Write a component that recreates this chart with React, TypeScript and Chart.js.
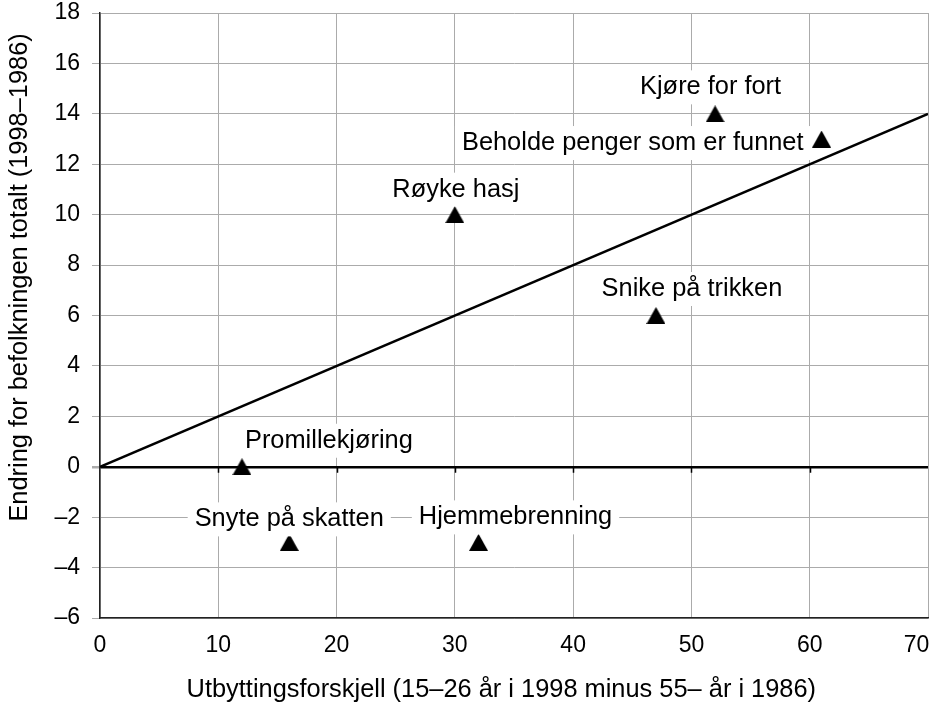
import React, { useEffect, useRef } from "react";
import { Chart, registerables } from "chart.js";

Chart.register(...registerables);

// ---- data ----
const pointNames = [
  "Promillekjøring",
  "Snyte på skatten",
  "Hjemmebrenning",
  "Røyke hasj",
  "Snike på trikken",
  "Kjøre for fort",
  "Beholde penger som er funnet",
];
const pointX = [12, 16, 32, 30, 47, 52, 61];
const pointY = [0, -3, -3, 10, 6, 14, 13];

const trendX = [0, 70];
const trendY = [0, 14];

const xTickMin = 0;
const xTickMax = 70;
const xTickStep = 10;
const yTickMin = -6;
const yTickMax = 18;
const yTickStep = 2;

const xTitle = "Utbyttingsforskjell (15–26 år i 1998 minus 55– år i 1986)";
const yTitle = "Endring for befolkningen totalt (1998–1986)";

// ---- label placement (style, not data) ----
const labelPlacement: { align: "left" | "center" | "right"; dx: number; dy: number }[] = [
  { align: "left", dx: 3, dy: -26 },
  { align: "center", dx: 0, dy: -23 },
  { align: "center", dx: 37, dy: -25 },
  { align: "center", dx: 1, dy: -25 },
  { align: "center", dx: 36, dy: -26.5 },
  { align: "center", dx: -4.5, dy: -26.5 },
  { align: "right", dx: -18, dy: 4 },
];

const FONT = "'Liberation Sans', Arial, Helvetica, sans-serif";
const GRID = "#ababab";
const EM = "\u2003";

function makeTriangle(): HTMLCanvasElement {
  const c = document.createElement("canvas");
  c.width = 19;
  c.height = 17;
  const g = c.getContext("2d")!;
  g.fillStyle = "#000";
  g.beginPath();
  g.moveTo(0, 17);
  g.lineTo(9.5, 0);
  g.lineTo(19, 17);
  g.closePath();
  g.fill();
  return c;
}

const labelPlugin = {
  id: "pointLabels",
  afterDatasetsDraw(chart: any) {
    const { ctx } = chart;
    const xs = chart.scales.x;
    const ys = chart.scales.y;
    ctx.save();
    ctx.font = `25.4px ${FONT}`;
    ctx.textBaseline = "middle";
    ctx.textAlign = "left";
    pointNames.forEach((name, i) => {
      const px = xs.getPixelForValue(pointX[i]);
      const py = ys.getPixelForValue(pointY[i]);
      const pl = labelPlacement[i];
      const w = ctx.measureText(name).width;
      let left: number;
      if (pl.align === "left") left = px + pl.dx;
      else if (pl.align === "right") left = px + pl.dx - w;
      else left = px + pl.dx - w / 2;
      const cy = py + pl.dy;
      ctx.fillStyle = "#fff";
      ctx.fillRect(left - 7, cy - 17, w + 14, 34);
      ctx.fillStyle = "#000";
      ctx.fillText(name, left, cy);
    });
    ctx.restore();
  },
};

const zeroTicksPlugin = {
  id: "zeroTicks",
  beforeDatasetsDraw(chart: any) {
    const { ctx } = chart;
    const xs = chart.scales.x;
    const ys = chart.scales.y;
    const y0 = ys.getPixelForValue(0);
    ctx.save();
    ctx.strokeStyle = "#000";
    ctx.lineWidth = 1.5;
    ctx.beginPath();
    for (let v = xTickMin + xTickStep; v < xTickMax; v += xTickStep) {
      const px = Math.round(xs.getPixelForValue(v)) + 0.5;
      ctx.moveTo(px, y0);
      ctx.lineTo(px, y0 + 6);
    }
    ctx.stroke();
    ctx.restore();
  },
};

export default function App() {
  const ref = useRef<HTMLCanvasElement | null>(null);

  useEffect(() => {
    document.body.style.margin = "0";
    const canvas = ref.current;
    if (!canvas) return;
    const tri = makeTriangle();

    const chart = new Chart(canvas, {
      type: "scatter",
      data: {
        datasets: [
          {
            type: "line",
            data: trendX.map((x, i) => ({ x, y: trendY[i] })),
            borderColor: "#000",
            borderWidth: 2.5,
            pointRadius: 0,
            fill: false,
          } as any,
          {
            data: pointX.map((x, i) => ({ x, y: pointY[i] })),
            pointStyle: tri as any,
            pointRadius: 10,
            backgroundColor: "#000",
            borderColor: "#000",
          },
        ],
      },
      options: {
        responsive: false,
        animation: false,
        devicePixelRatio: 1,
        layout: { padding: { top: 13, right: 14, bottom: 0, left: 0 } },
        plugins: {
          legend: { display: false },
          tooltip: { enabled: false },
        },
        scales: {
          x: {
            type: "linear",
            min: xTickMin,
            max: xTickMax,
            afterFit: (s: any) => {
              s.height = 84;
              s.paddingLeft = 0;
              s.paddingRight = 0;
            },
            ticks: {
              stepSize: xTickStep,
              color: "#000",
              font: { family: FONT, size: 23 },
              padding: 14,
              maxRotation: 0,
              callback: (v: any) => (v === xTickMax ? String(v) + EM : String(v)),
            },
            grid: {
              color: GRID,
              lineWidth: 1,
              drawTicks: false,
            },
            border: { display: true, color: "#222", width: 1.5 },
            title: {
              display: true,
              text: xTitle + EM,
              color: "#000",
              font: { family: FONT, size: 25.4 },
              padding: { top: 0, bottom: -3 },
            },
          },
          y: {
            type: "linear",
            min: yTickMin,
            max: yTickMax,
            afterFit: (s: any) => {
              s.width = 100;
              s.paddingTop = 0;
              s.paddingBottom = 0;
            },
            ticks: {
              stepSize: yTickStep,
              color: "#000",
              font: { family: FONT, size: 23 },
              padding: 12,
              callback: (v: any) => String(v).replace("-", "–"),
            },
            grid: {
              color: (c: any) => (c.tick && c.tick.value === 0 ? "#000" : GRID),
              lineWidth: (c: any) => (c.tick && c.tick.value === 0 ? 2.5 : 1),
              tickColor: GRID,
              tickLength: 8,
              drawTicks: true,
            },
            border: { display: true, color: "#222", width: 1.5 },
            title: {
              display: true,
              text: EM + EM + EM + yTitle,
              color: "#000",
              font: { family: FONT, size: 25.4 },
              padding: { top: 5, bottom: 0 },
            },
          },
        },
      },
      plugins: [zeroTicksPlugin, labelPlugin],
    });
    return () => chart.destroy();
  }, []);

  return (
    <div style={{ width: 942, height: 702, background: "#fff" }}>
      <canvas ref={ref} width={942} height={702} />
    </div>
  );
}
